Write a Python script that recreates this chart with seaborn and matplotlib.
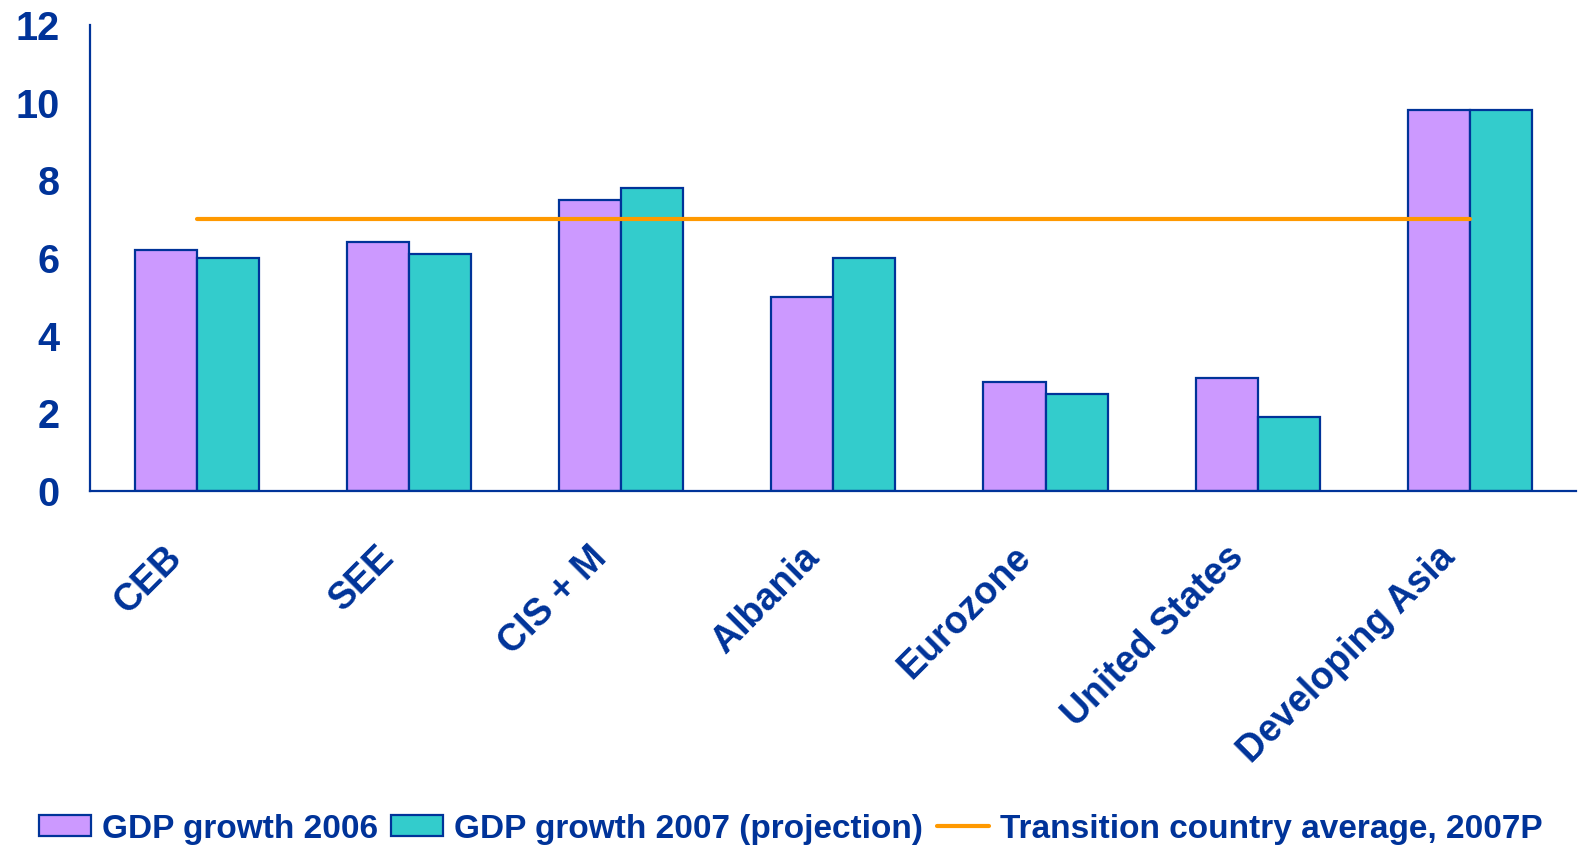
import numpy as np
import pandas as pd
import matplotlib
matplotlib.use("Agg")
import matplotlib.pyplot as plt
from matplotlib.patches import Patch
from matplotlib.lines import Line2D
from matplotlib.transforms import ScaledTranslation
import seaborn as sns

categories = ["CEB", "SEE", "CIS + M", "Albania", "Eurozone", "United States", "Developing Asia"]
gdp_2006 = [6.2, 6.4, 7.5, 5.0, 2.8, 2.9, 9.8]
gdp_2007 = [6.0, 6.1, 7.8, 6.0, 2.5, 1.9, 9.8]
transition_avg = [7.0, 7.0, 7.0, 7.0, 7.0, 7.0, 7.0]
series_names = ["GDP growth 2006", "GDP growth 2007 (projection)"]
line_name = "Transition country average, 2007P"
y_ticks = [0, 2, 4, 6, 8, 10, 12]

NAVY = "#003399"
PURPLE = "#CC99FF"
TEAL = "#33CCCC"
ORANGE = "#FF9900"

sns.set_theme(style="white")
plt.rcParams["font.family"] = ["Liberation Sans", "DejaVu Sans"]
plt.rcParams["font.weight"] = "bold"

df = pd.DataFrame({
    "category": categories * 2,
    "value": gdp_2006 + gdp_2007,
    "series": [series_names[0]] * len(categories) + [series_names[1]] * len(categories),
})

fig = plt.figure(figsize=(15.81, 8.47), dpi=100)
ax = fig.add_axes([90 / 1581, 1 - 491 / 847, (1576 - 90) / 1581, (491 - 25) / 847])

sns.barplot(data=df, x="category", y="value", hue="series", order=categories,
            hue_order=series_names, palette=[PURPLE, TEAL], width=0.585, gap=0,
            edgecolor=NAVY, linewidth=1.6, saturation=1, errorbar=None,
            legend=False, ax=ax)

positions = np.arange(len(categories))
sns.lineplot(x=positions, y=transition_avg, color=ORANGE, linewidth=3.0, ax=ax,
             legend=False, solid_capstyle="round")

ax.set_xlim(-0.503, len(categories) - 0.5)
ax.set_ylim(0, 12)
ax.set_yticks(y_ticks)
ax.set_yticklabels([str(t) for t in y_ticks], fontsize=28.5, fontweight="bold", color=NAVY)
ax.set_xticks(positions)
ax.set_xticklabels(categories, fontsize=27, fontweight="bold", color=NAVY,
                   rotation=45, ha="right", va="center", rotation_mode="anchor")
ax.tick_params(axis="y", length=0, pad=22)
ax.tick_params(axis="x", length=0, pad=44)
offset = ScaledTranslation(-20 / 100, 0, fig.dpi_scale_trans)
for lab in ax.get_xticklabels():
    lab.set_transform(lab.get_transform() + offset)

ax.set_xlabel("")
ax.set_ylabel("")
for s in ["top", "right"]:
    ax.spines[s].set_visible(False)
ax.spines["left"].set_color(NAVY)
ax.spines["left"].set_linewidth(1.6)
ax.spines["bottom"].set_color(NAVY)
ax.spines["bottom"].set_linewidth(1.6)
ax.grid(False)

handles = [
    Patch(facecolor=PURPLE, edgecolor=NAVY, linewidth=1.6, label=series_names[0]),
    Patch(facecolor=TEAL, edgecolor=NAVY, linewidth=1.6, label=series_names[1]),
    Line2D([0], [0], color=ORANGE, linewidth=3.0, solid_capstyle="round", label=line_name),
]
fig.legend(handles=handles, loc="center", bbox_to_anchor=(0.5, 1 - 829 / 847), ncol=3,
           frameon=False, prop={"size": 24, "weight": "bold"}, labelcolor=NAVY,
           handlelength=1.56, handleheight=0.57, handletextpad=0.33, columnspacing=0.4,
           borderaxespad=0, borderpad=0)

fig.savefig("out.png", dpi=100)
